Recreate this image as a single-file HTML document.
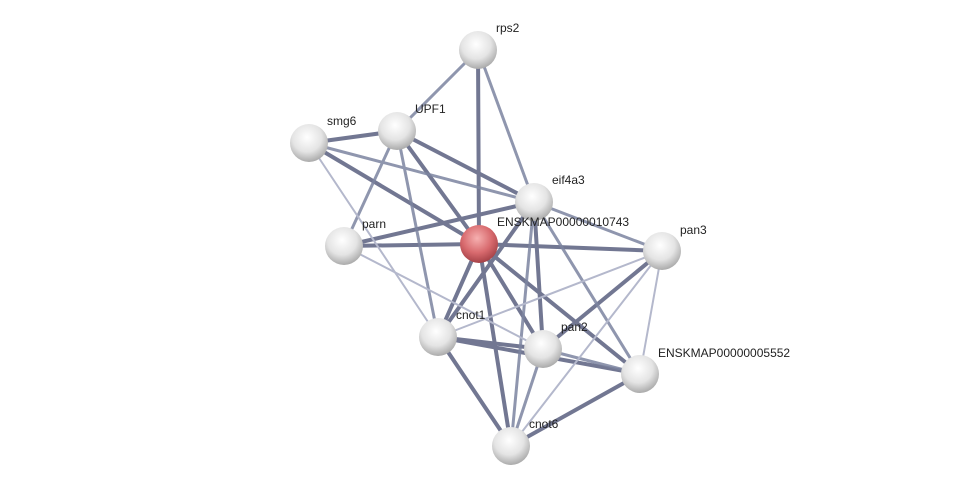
<!DOCTYPE html>
<html><head><meta charset="utf-8"><style>
html,body{margin:0;padding:0;background:#fff;}
svg{display:block;}
text{font-family:"Liberation Sans",sans-serif;font-size:12px;fill:#222;}
</style></head><body>
<svg width="975" height="491" viewBox="0 0 975 491">
<defs>
<radialGradient id="g" cx="45%" cy="35%" r="70%">
<stop offset="0" stop-color="#ffffff"/><stop offset="0.55" stop-color="#e4e4e4"/><stop offset="1" stop-color="#a0a0a0"/>
</radialGradient>
<radialGradient id="r" cx="45%" cy="35%" r="70%">
<stop offset="0" stop-color="#f6b0b0"/><stop offset="0.55" stop-color="#d86a6e"/><stop offset="1" stop-color="#9c3a40"/>
</radialGradient>
</defs>
<g stroke-linecap="round">
<g stroke="#5a6080" stroke-width="4" opacity="0.85">
<line x1="478" y1="50" x2="479" y2="244"/>
<line x1="309" y1="143" x2="397" y2="131"/>
<line x1="309" y1="143" x2="479" y2="244"/>
<line x1="397" y1="131" x2="534" y2="202"/>
<line x1="397" y1="131" x2="479" y2="244"/>
<line x1="344" y1="246" x2="534" y2="202"/>
<line x1="344" y1="246" x2="479" y2="244"/>
<line x1="534" y1="202" x2="438" y2="337"/>
<line x1="534" y1="202" x2="543" y2="349"/>
<line x1="479" y1="244" x2="662" y2="251"/>
<line x1="479" y1="244" x2="438" y2="337"/>
<line x1="479" y1="244" x2="543" y2="349"/>
<line x1="479" y1="244" x2="640" y2="374"/>
<line x1="479" y1="244" x2="511" y2="446"/>
<line x1="438" y1="337" x2="543" y2="349"/>
<line x1="438" y1="337" x2="640" y2="374"/>
<line x1="438" y1="337" x2="511" y2="446"/>
<line x1="543" y1="349" x2="662" y2="251"/>
<line x1="640" y1="374" x2="511" y2="446"/>
</g>
<g stroke="#7c84a0" stroke-width="3" opacity="0.85">
<line x1="478" y1="50" x2="397" y2="131"/>
<line x1="478" y1="50" x2="534" y2="202"/>
<line x1="309" y1="143" x2="534" y2="202"/>
<line x1="397" y1="131" x2="344" y2="246"/>
<line x1="397" y1="131" x2="438" y2="337"/>
<line x1="534" y1="202" x2="662" y2="251"/>
<line x1="534" y1="202" x2="511" y2="446"/>
<line x1="534" y1="202" x2="640" y2="374"/>
<line x1="543" y1="349" x2="511" y2="446"/>
<line x1="543" y1="349" x2="640" y2="374"/>
</g>
<g stroke="#b4b8cc" stroke-width="2">
<line x1="309" y1="143" x2="438" y2="337"/>
<line x1="344" y1="246" x2="543" y2="349"/>
<line x1="438" y1="337" x2="662" y2="251"/>
<line x1="662" y1="251" x2="640" y2="374"/>
<line x1="662" y1="251" x2="511" y2="446"/>
</g>
</g>
<g>
<circle cx="478" cy="50" r="19" fill="url(#g)"/>
<circle cx="397" cy="131" r="19" fill="url(#g)"/>
<circle cx="309" cy="143" r="19" fill="url(#g)"/>
<circle cx="534" cy="202" r="19" fill="url(#g)"/>
<circle cx="344" cy="246" r="19" fill="url(#g)"/>
<circle cx="479" cy="244" r="19" fill="url(#r)"/>
<circle cx="662" cy="251" r="19" fill="url(#g)"/>
<circle cx="438" cy="337" r="19" fill="url(#g)"/>
<circle cx="543" cy="349" r="19" fill="url(#g)"/>
<circle cx="640" cy="374" r="19" fill="url(#g)"/>
<circle cx="511" cy="446" r="19" fill="url(#g)"/>
</g>
<text x="496" y="32">rps2</text>
<text x="415" y="113">UPF1</text>
<text x="327" y="125">smg6</text>
<text x="552" y="184">eif4a3</text>
<text x="362" y="228">parn</text>
<text x="497" y="226">ENSKMAP00000010743</text>
<text x="680" y="234">pan3</text>
<text x="456" y="319">cnot1</text>
<text x="561" y="331">pan2</text>
<text x="658" y="357">ENSKMAP00000005552</text>
<text x="529" y="428">cnot6</text>
</svg>
</body></html>
